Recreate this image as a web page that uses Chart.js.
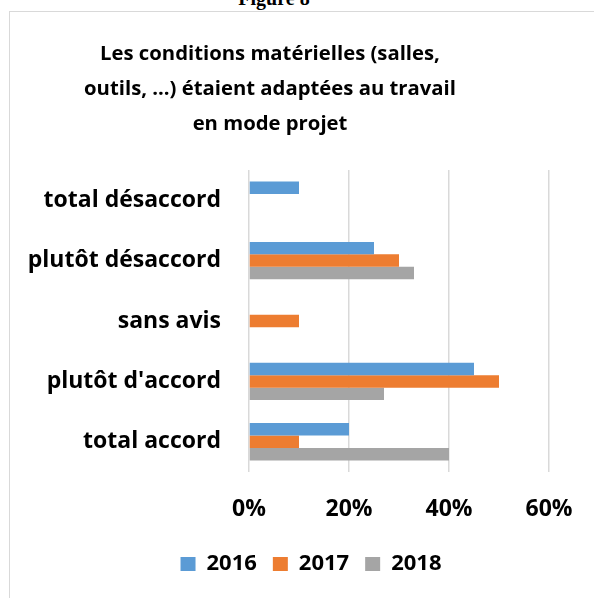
<!DOCTYPE html>
<html>
<head>
<meta charset="utf-8">
<script src="https://cdn.jsdelivr.net/npm/chart.js@4/dist/chart.umd.min.js"></script>
<style>
    body { margin: 0; overflow: hidden; background: #fff; }
    #figura { position: absolute; left: 0; top: -13px; width: 548px; text-align: center; font: bold 20px "Liberation Serif", serif; }
    #marco { position: absolute; left: 9px; top: 11px; width: 700px; height: 700px; border: 1.5px solid #d9d9d9; }
    #titulo { position: absolute; left: 0; top: 35px; width: 540px; text-align: center; font: bold 20.3px "Open Sans", sans-serif; line-height: 35px; }
    #contenedor { position: absolute; left: 0; top: 0; }
</style>
</head>
<body>
<div id="figura">Figure 8</div>
<div id="marco"></div>
<div id="contenedor"><canvas id="grafico1" width="622" height="598"></canvas></div>
<div id="titulo">Les conditions matérielles (salles,<br>outils, ...) étaient adaptées au travail<br>en mode projet</div>
<script>
const categorias = ['total désaccord', 'plutôt désaccord', 'sans avis', "plutôt d'accord", 'total accord'];
const anios = ['2016', '2017', '2018'];
const valores2016 = [10, 25, 0, 45, 20];
const valores2017 = [0, 30, 10, 50, 10];
const valores2018 = [0, 33, 0, 27, 40];
const ticksX = [0, 20, 40, 60];

function cargarGrafico() {
    var ctx = document.getElementById('grafico1').getContext('2d');
    var fuente = { family: '"Open Sans", sans-serif', size: 23, weight: 'bold' };
    var datos = {
        labels: categorias,
        datasets: [
            { label: anios[0], data: valores2016, backgroundColor: '#5b9bd5' },
            { label: anios[1], data: valores2017, backgroundColor: '#ed7d31' },
            { label: anios[2], data: valores2018, backgroundColor: '#a5a5a5' }
        ]
    };
    new Chart(ctx, {
        type: 'bar',
        data: datos,
        options: {
            indexAxis: 'y',
            responsive: false,
            animation: false,
            devicePixelRatio: 1,
            datasets: { bar: { categoryPercentage: 0.62, barPercentage: 1, borderWidth: 0 } },
            layout: { padding: { top: 170, right: 0, left: 0, bottom: 13 } },
            scales: {
                x: {
                    min: ticksX[0],
                    max: ticksX[ticksX.length - 1],
                    afterBuildTicks: function (s) { s.ticks = ticksX.map(function (v) { return { value: v }; }); },
                    afterFit: function (s) { s.height = 65; },
                    ticks: { color: '#000', font: fuente, padding: 24, callback: function (v) { return v + '%'; } },
                    grid: { color: '#d9d9d9', lineWidth: 1.5, drawTicks: false },
                    border: { display: false }
                },
                y: {
                    afterFit: function (s) { s.width = 249; },
                    ticks: { color: '#000', font: fuente, padding: 28 },
                    grid: { display: false, drawTicks: false },
                    border: { display: false }
                },
                // eje vacio a la derecha: deja sitio al "60%" y centra la leyenda
                yDer: {
                    type: 'category',
                    position: 'right',
                    afterFit: function (s) { s.width = 73; },
                    ticks: { display: false },
                    grid: { display: false, drawTicks: false },
                    border: { display: false }
                }
            },
            plugins: {
                legend: {
                    position: 'bottom',
                    labels: { color: '#000', font: { family: '"Open Sans", sans-serif', size: 22, weight: 'bold' }, boxWidth: 15, boxHeight: 14, padding: 16 }
                },
                tooltip: { enabled: false }
            }
        }
    });
}
cargarGrafico();
</script>
</body>
</html>
